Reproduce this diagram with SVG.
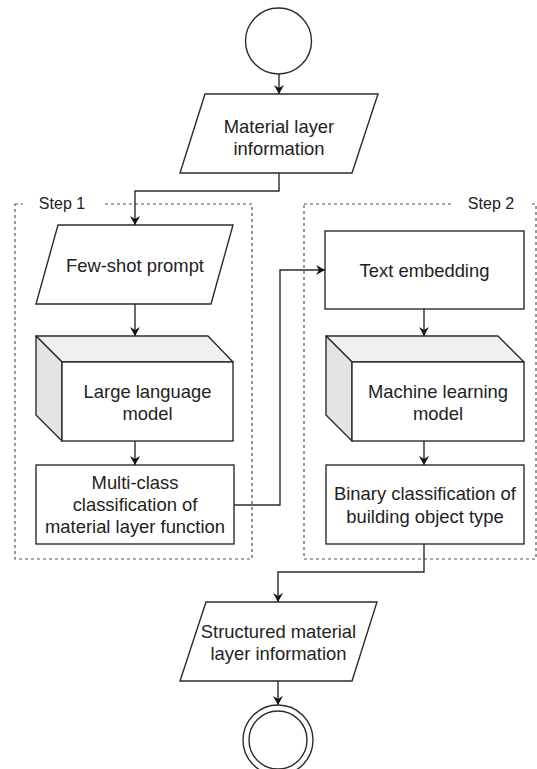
<svg xmlns="http://www.w3.org/2000/svg" width="537" height="769" viewBox="0 0 537 769">
<style>
.s{fill:#fff;stroke:#2b2b2b;stroke-width:1.4}
.side{fill:#e4e4e4;stroke:#2b2b2b;stroke-width:1.4;stroke-linejoin:round}
.top{fill:#f0f0f0;stroke:#2b2b2b;stroke-width:1.4;stroke-linejoin:round}
.t{font-family:"Liberation Sans",Arial,sans-serif;font-size:18.4px;fill:#222;text-anchor:middle}
.lbl{font-family:"Liberation Sans",Arial,sans-serif;font-size:16px;fill:#222;text-anchor:middle}
.grp{fill:none;stroke:#555;stroke-width:1.2;stroke-dasharray:3 3}
.c{fill:none;stroke:#2b2b2b;stroke-width:1.4}
</style>
<defs>
<marker id="ah" markerWidth="10" markerHeight="10" refX="9" refY="5" orient="auto" markerUnits="userSpaceOnUse">
<path d="M0,0 L9,5 L0,10 L3,5 Z" fill="#111"/>
</marker>
</defs>
<rect width="537" height="769" fill="#fff"/>

<g id="step1">
<rect class="grp" x="15" y="204" width="237" height="355"/>
<rect x="23" y="190" width="79" height="28" fill="#fff"/>
<text class="lbl" x="62" y="209">Step 1</text>
</g>
<g id="step2">
<rect class="grp" x="304" y="204" width="232" height="355"/>
<rect x="453" y="190" width="79" height="28" fill="#fff"/>
<text class="lbl" x="491" y="209">Step 2</text>
</g>

<g id="start">
<circle class="s" cx="278.5" cy="41" r="33"/>
</g>

<g id="material">
<polygon class="s" points="205,94 378,94 352,173 180,173"/>
<text class="t" x="279" y="133">Material layer</text>
<text class="t" x="279" y="155">information</text>
</g>

<g id="fewshot">
<polygon class="s" points="58,225 233,225 211,304 36,304"/>
<text class="t" x="135" y="272">Few-shot prompt</text>
</g>

<g id="llm">
<polygon class="top" points="36,336 208,336 233,362 62,362"/>
<polygon class="side" points="36,336 62,362 62,441 36,415"/>
<rect class="s" x="62" y="362" width="171" height="79"/>
<text class="t" x="147.5" y="398">Large language</text>
<text class="t" x="147.5" y="420">model</text>
</g>

<g id="multiclass">
<rect class="s" x="36" y="465" width="198" height="79"/>
<text class="t" x="135" y="489">Multi-class</text>
<text class="t" x="135" y="511">classification of</text>
<text class="t" x="135" y="533">material layer function</text>
</g>

<g id="embedding">
<rect class="s" x="325" y="231" width="199" height="78"/>
<text class="t" x="424.5" y="277">Text embedding</text>
</g>

<g id="ml">
<polygon class="top" points="326,336 498,336 524,362 352,362"/>
<polygon class="side" points="326,336 352,362 352,441 326,415"/>
<rect class="s" x="352" y="362" width="172" height="79"/>
<text class="t" x="438" y="398">Machine learning</text>
<text class="t" x="438" y="420">model</text>
</g>

<g id="binary">
<rect class="s" x="326" y="465" width="198" height="79"/>
<text class="t" x="425" y="500">Binary classification of</text>
<text class="t" x="425" y="523">building object type</text>
</g>

<g id="structured">
<polygon class="s" points="206,602 377,602 352,681 180,681"/>
<text class="t" x="278.5" y="638">Structured material</text>
<text class="t" x="278.5" y="660">layer information</text>
</g>

<g id="end">
<circle class="s" cx="278" cy="740" r="35"/>
<circle class="s" cx="278" cy="740" r="29"/>
</g>

<g id="connectors">
<path class="c" d="M279,74 L279,94" marker-end="url(#ah)"/>
<path class="c" d="M279,173 L279,191 L135,191 L135,225" marker-end="url(#ah)"/>
<path class="c" d="M135,304 L135,336" marker-end="url(#ah)"/>
<path class="c" d="M135,441 L135,465" marker-end="url(#ah)"/>
<path class="c" d="M234,505 L280,505 L280,270 L325,270" marker-end="url(#ah)"/>
<path class="c" d="M424,309 L424,336" marker-end="url(#ah)"/>
<path class="c" d="M424,441 L424,465" marker-end="url(#ah)"/>
<path class="c" d="M424,544 L424,572 L278,572 L278,602" marker-end="url(#ah)"/>
<path class="c" d="M278,681 L278,705" marker-end="url(#ah)"/>
</g>
</svg>
